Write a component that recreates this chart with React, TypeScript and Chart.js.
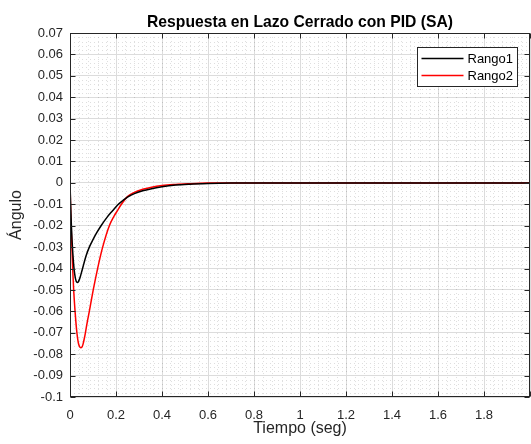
import React, { useEffect, useRef } from 'react';
import { Chart, registerables } from 'chart.js';

Chart.register(...registerables);

const titulo = 'Respuesta en Lazo Cerrado con PID (SA)';
const xTitulo = 'Tiempo (seg)';
const yTitulo = 'Ángulo';
const nombres = ['Rango1', 'Rango2'];
const colores = ['#000000', '#ff0000'];

const tiempo1 = [0, 0.003, 0.006, 0.009, 0.012, 0.015, 0.018, 0.021, 0.024, 0.027, 0.03, 0.033, 0.036, 0.04, 0.045, 0.052, 0.06, 0.07, 0.084, 0.1, 0.115, 0.135, 0.16, 0.185, 0.207, 0.23, 0.25, 0.28, 0.316, 0.35, 0.4, 0.46, 0.52, 0.6, 0.7, 0.8, 1.0, 1.5, 2.0];
const rango1 = [0, -0.011, -0.02, -0.027, -0.0325, -0.037, -0.0405, -0.043, -0.0448, -0.0459, -0.0464, -0.0465, -0.0462, -0.0453, -0.0437, -0.041, -0.0378, -0.034, -0.03, -0.0265, -0.0235, -0.02, -0.0162, -0.013, -0.0103, -0.0082, -0.0066, -0.005, -0.0037, -0.0028, -0.0018, -0.001, -0.0006, -0.0003, -0.0001, 0, 0, 0, 0];

const tiempo2 = [0, 0.002, 0.004, 0.006, 0.008, 0.0116, 0.016, 0.022, 0.026, 0.03, 0.034, 0.038, 0.043, 0.048, 0.053, 0.057, 0.062, 0.067, 0.075, 0.084, 0.101, 0.12, 0.142, 0.171, 0.19, 0.207, 0.222, 0.25, 0.28, 0.316, 0.35, 0.4, 0.46, 0.52, 0.6, 0.7, 0.8, 1.0, 1.5, 2.0];
const rango2 = [0, -0.009, -0.017, -0.0235, -0.029, -0.04, -0.05, -0.06, -0.0655, -0.07, -0.0733, -0.0755, -0.0767, -0.077, -0.0765, -0.0752, -0.0728, -0.07, -0.065, -0.06, -0.05, -0.04, -0.03, -0.02, -0.0158, -0.0128, -0.0102, -0.0064, -0.0044, -0.003, -0.0021, -0.0012, -0.0007, -0.0004, -0.0001, 0, 0, 0, 0, 0];

const xMin = 0;
const xMax = 2;
const xPaso = 0.2;
const xMenor = 0.04;
const yMin = -0.1;
const yMax = 0.07;
const yPaso = 0.01;
const yMenor = 0.002;

const FUENTE = '"Liberation Sans", Arial, Helvetica, sans-serif';

const matlabPlugin = {
  id: 'matlabBox',
  beforeDatasetsDraw(chart: any) {
    const { ctx, chartArea: a, scales } = chart;
    const xs = scales.x;
    const ys = scales.y;
    ctx.save();
    ctx.strokeStyle = 'rgba(0,0,0,0.13)';
    ctx.lineWidth = 1;
    ctx.setLineDash([1, 3]);
    const nx = Math.round((xMax - xMin) / xMenor);
    for (let i = 1; i < nx; i++) {
      if (i % Math.round(xPaso / xMenor) === 0) continue;
      const px = Math.round(xs.getPixelForValue(xMin + i * xMenor)) + 0.5;
      ctx.beginPath();
      ctx.moveTo(px, a.top);
      ctx.lineTo(px, a.bottom);
      ctx.stroke();
    }
    const ny = Math.round((yMax - yMin) / yMenor);
    for (let i = 1; i < ny; i++) {
      if (i % Math.round(yPaso / yMenor) === 0) continue;
      const py = Math.round(ys.getPixelForValue(yMin + i * yMenor)) + 0.5;
      ctx.beginPath();
      ctx.moveTo(a.left, py);
      ctx.lineTo(a.right, py);
      ctx.stroke();
    }
    ctx.restore();
  },
  afterDatasetsDraw(chart: any) {
    const { ctx, chartArea: a, scales } = chart;
    const xs = scales.x;
    const ys = scales.y;
    ctx.save();
    ctx.strokeStyle = '#262626';
    ctx.lineWidth = 1;
    ctx.setLineDash([]);
    const L = Math.round(a.left) + 0.5;
    const R = Math.round(a.right) - 0.5;
    const T = Math.round(a.top) + 0.5;
    const B = Math.round(a.bottom) - 0.5;
    ctx.strokeRect(L, T, R - L, B - T);
    const tl = 5;
    xs.ticks.forEach((t: any) => {
      const px = Math.round(xs.getPixelForValue(t.value)) + 0.5;
      ctx.beginPath();
      ctx.moveTo(px, B);
      ctx.lineTo(px, B - tl);
      ctx.moveTo(px, T);
      ctx.lineTo(px, T + tl);
      ctx.stroke();
    });
    ys.ticks.forEach((t: any) => {
      const py = Math.round(ys.getPixelForValue(t.value)) + 0.5;
      ctx.beginPath();
      ctx.moveTo(L, py);
      ctx.lineTo(L + tl, py);
      ctx.moveTo(R, py);
      ctx.lineTo(R - tl, py);
      ctx.stroke();
    });

    // legend
    const bw = 100;
    const bh = 39;
    const bx = Math.round(a.right - 13 - bw) + 0.5;
    const by = Math.round(a.top + 14) + 0.5;
    ctx.fillStyle = '#ffffff';
    ctx.fillRect(bx, by, bw, bh);
    ctx.strokeStyle = '#262626';
    ctx.strokeRect(bx, by, bw, bh);
    ctx.font = `13px ${FUENTE}`;
    ctx.textBaseline = 'middle';
    ctx.textAlign = 'left';
    chart.data.datasets.forEach((ds: any, i: number) => {
      const ly = by + 11 + i * 17;
      ctx.strokeStyle = ds.borderColor;
      ctx.lineWidth = 1.5;
      ctx.beginPath();
      ctx.moveTo(bx + 4, ly);
      ctx.lineTo(bx + 46, ly);
      ctx.stroke();
      ctx.fillStyle = '#000000';
      ctx.fillText(ds.label, bx + 50, ly + 0.5);
    });
    ctx.restore();
  },
};

export default function App() {
  const ref = useRef<HTMLCanvasElement | null>(null);

  useEffect(() => {
    if (!ref.current) return;
    const chart = new Chart(ref.current, {
      type: 'line',
      data: {
        datasets: [
          {
            label: nombres[0],
            data: tiempo1.map((t, i) => ({ x: t, y: rango1[i] })),
            borderColor: colores[0],
            backgroundColor: colores[0],
            borderWidth: 1.5,
            pointRadius: 0,
            cubicInterpolationMode: 'monotone',
            fill: false,
          },
          {
            label: nombres[1],
            data: tiempo2.map((t, i) => ({ x: t, y: rango2[i] })),
            borderColor: colores[1],
            backgroundColor: colores[1],
            borderWidth: 1.5,
            pointRadius: 0,
            cubicInterpolationMode: 'monotone',
            fill: false,
          },
        ],
      },
      options: {
        animation: false,
        responsive: false,
        devicePixelRatio: 1,
        layout: { autoPadding: false, padding: { left: 0, right: 1, top: 0, bottom: 0 } },
        plugins: {
          legend: { display: false },
          tooltip: { enabled: false },
          title: {
            display: true,
            text: titulo,
            fullSize: false,
            color: '#000000',
            font: { family: FUENTE, size: 15.7, weight: 'bold', lineHeight: 1.2 },
            padding: { top: 13, bottom: 1.2 },
          },
        },
        scales: {
          x: {
            type: 'linear',
            min: xMin,
            max: xMax,
            afterFit: (s: any) => {
              s.height = 47;
              s.paddingLeft = 0;
              s.paddingRight = 0;
            },
            ticks: {
              stepSize: xPaso,
              autoSkip: false,
              maxRotation: 0,
              padding: 11,
              color: '#262626',
              font: { family: FUENTE, size: 13 },
              callback: (v: any) => {
                const r = Math.round(Number(v) * 10) / 10;
                return r >= xMax ? '' : String(r);
              },
            },
            grid: { color: '#dcdcdc', drawTicks: false, lineWidth: 1 },
            border: { display: false },
            title: {
              display: true,
              text: xTitulo,
              color: '#262626',
              font: { family: FUENTE, size: 16, lineHeight: 1.2 },
              padding: { top: 0, bottom: 6 },
            },
          },
          y: {
            type: 'linear',
            min: yMin,
            max: yMax,
            afterFit: (s: any) => {
              s.width = 70;
              s.paddingTop = 0;
              s.paddingBottom = 0;
            },
            ticks: {
              stepSize: yPaso,
              autoSkip: false,
              padding: 7,
              color: '#262626',
              font: { family: FUENTE, size: 13 },
              callback: (v: any) => String(Math.round(Number(v) * 100) / 100),
            },
            grid: { color: '#dcdcdc', drawTicks: false, lineWidth: 1 },
            border: { display: false },
            title: {
              display: true,
              text: yTitulo,
              color: '#262626',
              font: { family: FUENTE, size: 16, lineHeight: 1.2 },
              padding: { top: 7, bottom: 0 },
            },
          },
        },
      },
      plugins: [matlabPlugin],
    } as any);
    return () => chart.destroy();
  }, []);

  return (
    <div style={{ position: 'absolute', left: 0, top: 0, width: 531, height: 444, background: '#fff' }}>
      <canvas ref={ref} width={531} height={444} style={{ display: 'block' }} />
    </div>
  );
}
